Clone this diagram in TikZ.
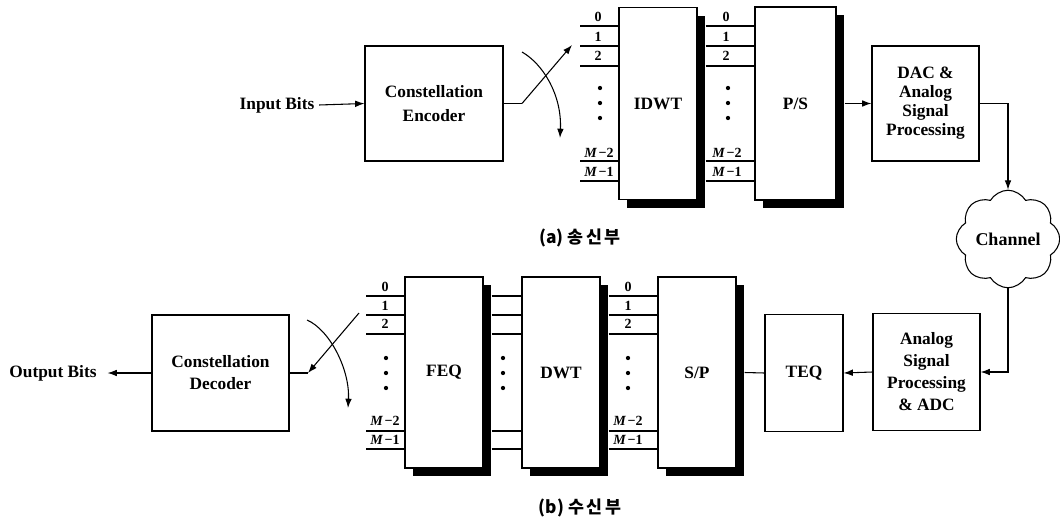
\documentclass[tikz,border=0pt]{standalone}
\usepackage{fontspec}
\setmainfont{Liberation Serif}
\newfontfamily\krfont{Noto Sans CJK KR}
\usetikzlibrary{arrows.meta,shapes.symbols,shadows}
\begin{document}
\begin{tikzpicture}[x=0.75pt,y=-0.75pt,
  every node/.style={font=\fontsize{13}{14.5}\selectfont\bfseries},
  blk/.style={draw, line width=0.8pt, fill=white, align=center, inner sep=0pt},
  sblk/.style={blk, minimum width=58.5pt, general shadow={fill=black, shadow xshift=6pt, shadow yshift=-6pt}},
  lbl/.style={font=\fontsize{10.5}{11}\selectfont\bfseries, inner sep=0pt},
  wire/.style={line width=0.8pt},
  arr/.style={wire, -{Latex[length=7pt,width=5pt]}},
  dotn/.style={circle, fill=black, inner sep=0pt, minimum size=3.2pt},
  captxt/.style={font=\krfont\bfseries\fontsize{13}{15}\selectfont},
]
\useasboundingbox (0,0) rectangle (1060,521);

% ---------- transmitter ----------
\node (inb) at (277,105) {Input Bits};
\node[blk, minimum width=103.5pt, minimum height=86.25pt, font=\fontsize{13}{18.5}\selectfont\bfseries] (enc) at (434,103.5) {Constellation\\Encoder};
\node[sblk, minimum height=144pt] (idwt) at (658,103.5) {IDWT};
\node[sblk, minimum width=60.75pt, minimum height=144.75pt] (ps) at (795.5,103.5) {P/S};
\node[blk, minimum width=80.25pt, minimum height=86.25pt, font=\fontsize{13}{14.3}\selectfont\bfseries] (dac) at (925.5,103.5) {DAC \&\\Analog\\Signal\\Processing};
\node[cloud, draw, line width=0.8pt, cloud puffs=8, cloud puff arc=120, aspect=1.1, minimum width=70pt, minimum height=62pt, inner sep=0pt, font=\fontsize{13.5}{15}\selectfont\bfseries] (ch) at (1008,239) {Channel};

\coordinate (idwtR) at ([xshift=6pt]idwt.east);
\coordinate (psR) at ([xshift=6pt]ps.east);
\coordinate (inL) at (580,0);

\draw[arr] (inb.east) -- (enc.west);
\coordinate (swa) at (522,103.5);
\coordinate (swb) at (572,45);
\draw[wire] (enc.east) -- (swa);
\draw[arr] (swa) -- (swb);
\coordinate (arcA) at (522,52);
\coordinate (arcB) at (560,138);
\draw[arr] (arcA) .. controls (543,64) and (562,95) .. (arcB);

\foreach \y in {26,46,66,161,181} {
  \draw[wire] (inL |- 0,\y) -- (idwt.west |- 0,\y);
  \draw[wire] (idwtR |- 0,\y) -- (ps.west |- 0,\y);
}
\foreach \x in {598,726} {
  \node[lbl] at (\x,17) {0};
  \node[lbl] at (\x,37) {1};
  \node[lbl] at (\x,56) {2};
  \node[lbl] at (\x+1,153) {\textit{M}\kern1pt−2};
  \node[lbl] at (\x+1,172) {\textit{M}\kern1pt−1};
  \foreach \d in {88,103,118} \node[dotn] at (\x+2,\d) {};
}

\draw[arr] (psR) -- (dac.west);
\draw[arr] (dac.east) -| (ch.north);

\node[captxt] (capa) at (580,238) {(a)\ 송\kern2pt 신\kern2pt 부};

% ---------- receiver ----------
\node[blk, minimum width=80.25pt, minimum height=87.75pt, font=\fontsize{13}{16.5}\selectfont\bfseries] (adc) at (926.5,372) {Analog\\Signal\\Processing\\\& ADC};
\node[blk, minimum width=58.5pt, minimum height=87.75pt] (teq) at (804,373) {TEQ};
\node[sblk, minimum height=143.25pt] (sp) at (697,372.5) {S/P};
\node[sblk, minimum height=143.25pt] (dwt) at (561,372.5) {DWT};
\node[sblk, minimum height=143.25pt] (feq) at (444,372.5) {FEQ};
\node[blk, minimum width=102.75pt, minimum height=87pt, font=\fontsize{13}{16.5}\selectfont\bfseries] (dec) at (220.5,373) {Constellation\\Decoder};
\node[inner xsep=8pt] (outb) at (53,373) {Output Bits};

\coordinate (spR) at ([xshift=6pt]sp.east);
\coordinate (dwtR) at ([xshift=6pt]dwt.east);
\coordinate (feqR) at ([xshift=6pt]feq.east);
\coordinate (outL) at (366,0);

\draw[arr] (ch.south) |- (adc.east);
\draw[arr] (adc.west) -- (teq.east);
\draw[wire] (teq.west) -- (spR);

\foreach \y in {296,315,334,431,449} {
  \draw[wire] (outL |- 0,\y) -- (feq.west |- 0,\y);
  \draw[wire] (feqR |- 0,\y) -- (dwt.west |- 0,\y);
  \draw[wire] (dwtR |- 0,\y) -- (sp.west |- 0,\y);
}
\foreach \x in {385,628} {
  \node[lbl] at (\x,287) {0};
  \node[lbl] at (\x,306) {1};
  \node[lbl] at (\x,324) {2};
  \node[lbl] at (\x,421) {\textit{M}\kern1pt−2};
  \node[lbl] at (\x,440) {\textit{M}\kern1pt−1};
}
\foreach \x in {386,503,628} {
  \foreach \d in {358,373,388} \node[dotn] at (\x,\d) {};
}

\coordinate (swc) at (308,373);
\coordinate (swd) at (359,313);
\draw[wire] (dec.east) -- (swc);
\draw[arr] (swd) -- (swc);
\coordinate (arcC) at (307,320);
\coordinate (arcD) at (348,408);
\draw[arr] (arcC) .. controls (330,330) and (350,370) .. (arcD);
\draw[arr] (dec.west) -- (outb.east);

\node[captxt] (capb) at (580,508) {(b)\ 수\kern2pt 신\kern2pt 부};
\end{tikzpicture}
\end{document}
